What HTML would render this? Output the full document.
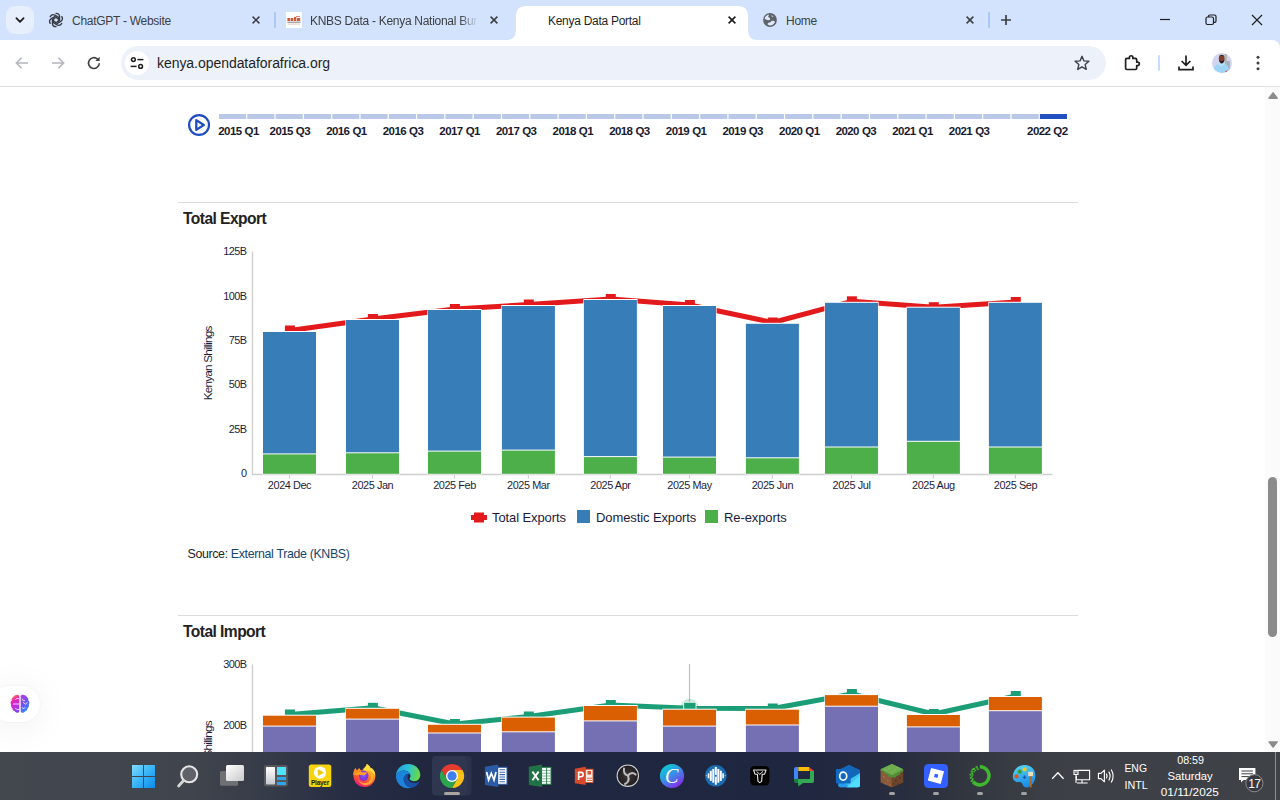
<!DOCTYPE html>
<html>
<head>
<meta charset="utf-8">
<title>Kenya Data Portal</title>
<style>
*{box-sizing:border-box;margin:0;padding:0}
html,body{width:1280px;height:800px;overflow:hidden;background:#fff;font-family:"Liberation Sans",sans-serif;}
#root{position:relative;width:1280px;height:800px;overflow:hidden;background:#fff}
.abs{position:absolute}
/* tab strip */
#tabstrip{position:absolute;left:0;top:0;width:1280px;height:50px;background:#d3e3fd}
#toolbar{position:absolute;left:0;top:40px;width:1280px;height:46px;background:#fff;border-radius:0 8px 0 0}
#tbline{position:absolute;left:0;top:86px;width:1280px;height:1px;background:#dfe1e2}
.tabtxt{position:absolute;top:14px;font-size:12px;color:#3c4043;white-space:nowrap;line-height:15px;letter-spacing:-0.28px}
#omnibox{position:absolute;left:121px;top:46px;width:985px;height:34px;border-radius:17px;background:#edf2fa}
#url{position:absolute;left:157px;top:54px;font-size:14px;color:#1f1f1f;line-height:18px;white-space:nowrap;letter-spacing:-0.05px}
/* page */
#page{position:absolute;left:0;top:87px;width:1265px;height:665px;background:#fff;overflow:hidden}
#scroll{position:absolute;left:1265px;top:87px;width:15px;height:665px;background:#fbfbfb}
.tl{position:absolute;top:39.5px;font-weight:bold;font-size:11.5px;letter-spacing:-0.58px;word-spacing:0.4px;color:#1b1b2f;white-space:nowrap;line-height:12px;transform:translateX(-50%)}
.h{position:absolute;font-weight:bold;font-size:15.6px;letter-spacing:-0.56px;color:#222;white-space:nowrap;line-height:18px}
.hr{position:absolute;left:178px;width:900px;height:1px;background:#dcdcdc}
svg text{font-family:"Liberation Sans",sans-serif}
/* taskbar */
#taskbar{position:absolute;left:0;top:752px;width:1280px;height:48px;background:linear-gradient(90deg,#43474e 0%,#40444c 15%,#363b49 21%,#272d43 27%,#20273f 33%,#1f2640 62%,#262b3f 69%,#33373f 76%,#3c4046 82%,#3f4348 100%)}
</style>
</head>
<body>
<div id="root">

<!-- ================= TAB STRIP ================= -->
<div id="tabstrip">
  <div class="abs" style="left:6px;top:6px;width:28px;height:28px;border-radius:9px;background:#e7effd"></div>
  <svg class="abs" style="left:14px;top:14px" width="12" height="12" viewBox="0 0 12 12"><path d="M2.4 4.2 L6 7.8 L9.6 4.2" fill="none" stroke="#1f1f1f" stroke-width="1.8" stroke-linecap="round" stroke-linejoin="round"/></svg>

  <!-- tab1 chatgpt -->
  <svg class="abs" style="left:48px;top:12px" width="16" height="16" viewBox="0 0 16 16"><g fill="none" stroke="#363a44" stroke-width="1.3" stroke-linejoin="round" stroke-linecap="round">
<path d="M8 1.3 C10 1.3 11.5 2.7 11.6 4.6 L11.6 8.6 L8.6 10.3"/><path d="M8 1.3 C10 1.3 11.5 2.7 11.6 4.6 L11.6 8.6 L8.6 10.3" transform="rotate(60 8 8)"/><path d="M8 1.3 C10 1.3 11.5 2.7 11.6 4.6 L11.6 8.6 L8.6 10.3" transform="rotate(120 8 8)"/><path d="M8 1.3 C10 1.3 11.5 2.7 11.6 4.6 L11.6 8.6 L8.6 10.3" transform="rotate(180 8 8)"/><path d="M8 1.3 C10 1.3 11.5 2.7 11.6 4.6 L11.6 8.6 L8.6 10.3" transform="rotate(240 8 8)"/><path d="M8 1.3 C10 1.3 11.5 2.7 11.6 4.6 L11.6 8.6 L8.6 10.3" transform="rotate(300 8 8)"/></g></svg>
  <div class="tabtxt" style="left:72px">ChatGPT - Website</div>
  <svg class="abs x" style="left:251px;top:15px" width="10" height="10" viewBox="0 0 10 10"><path d="M1.6 1.6 L8.4 8.4 M8.4 1.6 L1.6 8.4" stroke="#3c4043" stroke-width="1.55" fill="none"/></svg>
  <div class="abs" style="left:274px;top:12px;width:2px;height:16px;background:#a8c7fa;border-radius:1px"></div>

  <!-- tab2 knbs -->
  <div class="abs" style="left:286px;top:12px;width:16px;height:16px;background:#fff"></div>
  <svg class="abs" style="left:286px;top:12px" width="16" height="16" viewBox="0 0 16 16"><g fill="#cf5a3c"><rect x="1.4" y="6" width="2.6" height="3"/><rect x="4.6" y="6" width="2.8" height="3"/><rect x="8" y="5" width="2.4" height="4"/><rect x="11" y="6" width="3.2" height="3"/><rect x="10" y="4" width="4" height="1" opacity="0.7"/></g><rect x="1.4" y="9.6" width="13" height="1.3" fill="#9a9ea0"/><rect x="1.6" y="11.6" width="12.6" height="1" fill="#efc9bd"/></svg>
  <div class="tabtxt" style="left:310px;width:168px;overflow:hidden;-webkit-mask-image:linear-gradient(90deg,#000 150px,transparent 168px)">KNBS Data - Kenya National Bureau</div>
  <svg class="abs x" style="left:489px;top:15px" width="10" height="10" viewBox="0 0 10 10"><path d="M1.6 1.6 L8.4 8.4 M8.4 1.6 L1.6 8.4" stroke="#3c4043" stroke-width="1.55" fill="none"/></svg>

  <!-- active tab -->
  <svg class="abs" style="left:506px;top:6px" width="252" height="34" viewBox="0 0 252 34"><path d="M0 34 Q10 34 10 24 L10 10 Q10 0 20 0 L232 0 Q242 0 242 10 L242 24 Q242 34 252 34 Z" fill="#fff"/></svg>
  <div class="tabtxt" style="left:548px;color:#1f1f1f">Kenya Data Portal</div>
  <svg class="abs x" style="left:727px;top:15px" width="10" height="10" viewBox="0 0 10 10"><path d="M1.6 1.6 L8.4 8.4 M8.4 1.6 L1.6 8.4" stroke="#1f1f1f" stroke-width="1.65" fill="none"/></svg>

  <!-- tab4 home -->
  <svg class="abs" style="left:762px;top:12px" width="16" height="16" viewBox="0 0 16 16"><circle cx="8" cy="8" r="6.9" fill="#5f6368"/><path d="M2.6 7.4 C2.8 5 4.4 3.2 6.6 2.6 C7 3.4 6.6 4.2 6 4.6 C6.4 5.6 7.6 5.4 8 6.2 C8.6 7.4 7.4 8.4 6.2 8.2 C4.8 8 3.8 7 2.6 7.4 Z" fill="#dfe9fb"/><path d="M5.6 12.6 C5.4 11.4 6.2 10.4 7.4 10.4 C8.8 10.4 9 9 10.2 8.8 C11.4 8.6 12.6 9.2 13 10 C12.2 12 10.4 13.4 8 13.4 C7 13.4 6.2 13.1 5.6 12.6 Z" fill="#dfe9fb"/><path d="M9.4 3 C10.4 3.4 11.2 4 11.8 4.8 C11 5.4 10 5.2 9.6 4.4 C9.4 4 9.3 3.5 9.4 3Z" fill="#dfe9fb" opacity="0.6"/></svg>
  <div class="tabtxt" style="left:786px">Home</div>
  <svg class="abs x" style="left:965px;top:15px" width="10" height="10" viewBox="0 0 10 10"><path d="M1.6 1.6 L8.4 8.4 M8.4 1.6 L1.6 8.4" stroke="#3c4043" stroke-width="1.55" fill="none"/></svg>
  <div class="abs" style="left:988px;top:12px;width:2px;height:16px;background:#a8c7fa;border-radius:1px"></div>
  <svg class="abs" style="left:1000px;top:14px" width="12" height="12" viewBox="0 0 12 12"><path d="M6 1 V11 M1 6 H11" stroke="#3c4043" stroke-width="1.7" fill="none"/></svg>

  <!-- window controls -->
  <svg class="abs" style="left:1159px;top:13px" width="12" height="12" viewBox="0 0 12 12"><path d="M1 6.5 H11" stroke="#1f1f1f" stroke-width="1.2"/></svg>
  <svg class="abs" style="left:1205px;top:14px" width="12" height="12" viewBox="0 0 12 12"><rect x="1" y="3" width="7.5" height="7.5" rx="1.5" fill="none" stroke="#1f1f1f" stroke-width="1.2"/><path d="M3.5 3 V2.2 Q3.5 1 4.7 1 H9.5 Q11 1 11 2.5 V7 Q11 8.3 9.8 8.3 H8.6" fill="none" stroke="#1f1f1f" stroke-width="1.2"/></svg>
  <svg class="abs" style="left:1251px;top:14px" width="12" height="12" viewBox="0 0 12 12"><path d="M1 1 L11 11 M11 1 L1 11" stroke="#1f1f1f" stroke-width="1.2"/></svg>
</div>

<!-- ================= TOOLBAR ================= -->
<div id="toolbar"></div>
<div id="tbline"></div>
<svg class="abs" style="left:14px;top:55px" width="16" height="16" viewBox="0 0 16 16"><path d="M14 8 H2.6 M7.6 2.8 L2.4 8 L7.6 13.2" fill="none" stroke="#b4b7bb" stroke-width="1.6"/></svg>
<svg class="abs" style="left:50px;top:55px" width="16" height="16" viewBox="0 0 16 16"><path d="M2 8 H13.4 M8.4 2.8 L13.6 8 L8.4 13.2" fill="none" stroke="#b4b7bb" stroke-width="1.6"/></svg>
<svg class="abs" style="left:86px;top:55px" width="16" height="16" viewBox="0 0 16 16"><path d="M13.3 8.2 A5.4 5.4 0 1 1 11.6 4.1" fill="none" stroke="#3c4043" stroke-width="1.6"/><path d="M13.6 1.8 V6 H9.4 Z" fill="#3c4043"/></svg>
<div id="omnibox"></div>
<div class="abs" style="left:125px;top:51px;width:24px;height:24px;border-radius:12px;background:#fff"></div>
<svg class="abs" style="left:129px;top:55px" width="16" height="16" viewBox="0 0 16 16"><g fill="none" stroke="#1f1f1f" stroke-width="1.5"><circle cx="4.4" cy="4.6" r="1.9"/><path d="M8.4 4.6 H14.4"/><circle cx="11.6" cy="11.4" r="1.9"/><path d="M1.6 11.4 H7.6"/></g></svg>
<div id="url">kenya.opendataforafrica.org</div>
<svg class="abs" style="left:1073px;top:54px" width="18" height="18" viewBox="0 0 18 18"><path d="M9 2.3 L10.95 6.9 L15.9 7.3 L12.15 10.55 L13.3 15.4 L9 12.8 L4.7 15.4 L5.85 10.55 L2.1 7.3 L7.05 6.9 Z" fill="none" stroke="#3c4043" stroke-width="1.4" stroke-linejoin="round"/></svg>
<svg class="abs" style="left:1122px;top:53px" width="20" height="20" viewBox="0 0 20 20"><path d="M4.9 5.4 H7.4 V4.5 A1.75 1.75 0 0 1 10.9 4.5 V5.4 H13.4 Q14.7 5.4 14.7 6.7 V9.1 H15.6 A1.75 1.75 0 0 1 15.6 12.6 H14.7 V15.2 Q14.7 16.5 13.4 16.5 H4.9 Q3.6 16.5 3.6 15.2 V6.7 Q3.6 5.4 4.9 5.4 Z" fill="none" stroke="#1f1f1f" stroke-width="1.7" stroke-linejoin="round"/></svg>
<div class="abs" style="left:1158px;top:55px;width:2px;height:16px;background:#c7dbfb;border-radius:1px"></div>
<svg class="abs" style="left:1176px;top:53px" width="20" height="20" viewBox="0 0 20 20"><path d="M10 2.5 V12 M5.6 8 L10 12.4 L14.4 8" fill="none" stroke="#1f1f1f" stroke-width="1.7"/><path d="M3 13.5 V16.6 H17 V13.5" fill="none" stroke="#1f1f1f" stroke-width="1.7"/></svg>
<svg class="abs" style="left:1212px;top:52.8px" width="20" height="20" viewBox="0 0 20 20"><defs><clipPath id="avc"><circle cx="10" cy="10" r="10"/></clipPath></defs><g clip-path="url(#avc)"><rect width="20" height="20" fill="#d3d5ee"/><rect x="12.6" y="1" width="2.2" height="18" fill="#a9b6b4"/><rect x="14.8" y="8" width="3" height="12" fill="#9db2b8"/><path d="M1 20 C1 13 5 10.6 9.6 10.6 C14.2 10.6 17.4 13 17.6 20 Z" fill="#9ed4f8"/><path d="M6 11.4 L9.6 13.4 L13 11.2 L12 9.6 H7 Z" fill="#b9e0fa"/><ellipse cx="9.7" cy="5.4" rx="2.9" ry="3.7" fill="#7d3f29"/><path d="M7 6.6 C7.4 9.6 8.6 10.6 9.8 10.6 C11 10.6 12.2 9.4 12.5 6.6 C11.6 8 10.6 8.2 9.8 8.2 C9 8.2 7.8 8 7 6.6 Z" fill="#2b1f2a"/><path d="M7 3.6 C7.6 1.4 11.8 1.4 12.4 3.6 C11.4 2.6 8 2.6 7 3.6Z" fill="#3a2320"/><path d="M13 18.4 l2.4 -1.2 l0.6 1.4 l-2 1.4z" fill="#e0523a"/></g></svg>
<svg class="abs" style="left:1254px;top:54px" width="8" height="18" viewBox="0 0 8 18"><circle cx="4" cy="3.2" r="1.5" fill="#3c4043"/><circle cx="4" cy="9" r="1.5" fill="#3c4043"/><circle cx="4" cy="14.8" r="1.5" fill="#3c4043"/></svg>

<!-- ================= PAGE ================= -->
<div id="page">
  <svg class="abs" style="left:187px;top:26px" width="24" height="24" viewBox="0 0 24 24"><circle cx="12.05" cy="12" r="9.95" fill="none" stroke="#1f4cc2" stroke-width="2.2"/><path d="M9.3 7.1 L16.8 12 L9.3 16.9 Z" fill="none" stroke="#1f4cc2" stroke-width="2.3" stroke-linejoin="round"/></svg>
<svg class="abs" style="left:219.0px;top:27px" width="849.2" height="5"><rect x="0.00" y="0" width="27.11" height="5" fill="#b9c8e6"/><rect x="28.31" y="0" width="27.11" height="5" fill="#b9c8e6"/><rect x="56.61" y="0" width="27.11" height="5" fill="#b9c8e6"/><rect x="84.92" y="0" width="27.11" height="5" fill="#b9c8e6"/><rect x="113.23" y="0" width="27.11" height="5" fill="#b9c8e6"/><rect x="141.53" y="0" width="27.11" height="5" fill="#b9c8e6"/><rect x="169.84" y="0" width="27.11" height="5" fill="#b9c8e6"/><rect x="198.15" y="0" width="27.11" height="5" fill="#b9c8e6"/><rect x="226.45" y="0" width="27.11" height="5" fill="#b9c8e6"/><rect x="254.76" y="0" width="27.11" height="5" fill="#b9c8e6"/><rect x="283.07" y="0" width="27.11" height="5" fill="#b9c8e6"/><rect x="311.37" y="0" width="27.11" height="5" fill="#b9c8e6"/><rect x="339.68" y="0" width="27.11" height="5" fill="#b9c8e6"/><rect x="367.99" y="0" width="27.11" height="5" fill="#b9c8e6"/><rect x="396.29" y="0" width="27.11" height="5" fill="#b9c8e6"/><rect x="424.60" y="0" width="27.11" height="5" fill="#b9c8e6"/><rect x="452.91" y="0" width="27.11" height="5" fill="#b9c8e6"/><rect x="481.21" y="0" width="27.11" height="5" fill="#b9c8e6"/><rect x="509.52" y="0" width="27.11" height="5" fill="#b9c8e6"/><rect x="537.83" y="0" width="27.11" height="5" fill="#b9c8e6"/><rect x="566.13" y="0" width="27.11" height="5" fill="#b9c8e6"/><rect x="594.44" y="0" width="27.11" height="5" fill="#b9c8e6"/><rect x="622.75" y="0" width="27.11" height="5" fill="#b9c8e6"/><rect x="651.05" y="0" width="27.11" height="5" fill="#b9c8e6"/><rect x="679.36" y="0" width="27.11" height="5" fill="#b9c8e6"/><rect x="707.67" y="0" width="27.11" height="5" fill="#b9c8e6"/><rect x="735.97" y="0" width="27.11" height="5" fill="#b9c8e6"/><rect x="764.28" y="0" width="27.11" height="5" fill="#b9c8e6"/><rect x="792.59" y="0" width="27.11" height="5" fill="#b9c8e6"/><rect x="820.89" y="0" width="27.11" height="5" fill="#2350c0"/></svg>
<div class="tl" style="left:238.5px;top:38px">2015 Q1</div>
<div class="tl" style="left:289.8px;top:38px">2015 Q3</div>
<div class="tl" style="left:346.4px;top:38px">2016 Q1</div>
<div class="tl" style="left:403.0px;top:38px">2016 Q3</div>
<div class="tl" style="left:459.6px;top:38px">2017 Q1</div>
<div class="tl" style="left:516.2px;top:38px">2017 Q3</div>
<div class="tl" style="left:572.8px;top:38px">2018 Q1</div>
<div class="tl" style="left:629.4px;top:38px">2018 Q3</div>
<div class="tl" style="left:686.1px;top:38px">2019 Q1</div>
<div class="tl" style="left:742.7px;top:38px">2019 Q3</div>
<div class="tl" style="left:799.3px;top:38px">2020 Q1</div>
<div class="tl" style="left:855.9px;top:38px">2020 Q3</div>
<div class="tl" style="left:912.5px;top:38px">2021 Q1</div>
<div class="tl" style="left:969.1px;top:38px">2021 Q3</div>
<div class="tl" style="left:1047.3px;top:38px">2022 Q2</div>
  <div class="hr" style="top:115px"></div>
<div class="h" style="left:183px;top:122.5px">Total Export</div>
<svg class="abs" style="left:0;top:143px" width="1265" height="330" viewBox="0 230 1265 330">
<path d="M252.5 251.5 V474.5 H1052.5" fill="none" stroke="#cfcfcf" stroke-width="1.4"/>
<path d="M289.5 474.5 V478.5" stroke="#cfcfcf" stroke-width="1.2"/>
<path d="M372.5 474.5 V478.5" stroke="#cfcfcf" stroke-width="1.2"/>
<path d="M454.5 474.5 V478.5" stroke="#cfcfcf" stroke-width="1.2"/>
<path d="M528.4 474.5 V478.5" stroke="#cfcfcf" stroke-width="1.2"/>
<path d="M610.4 474.5 V478.5" stroke="#cfcfcf" stroke-width="1.2"/>
<path d="M689.5 474.5 V478.5" stroke="#cfcfcf" stroke-width="1.2"/>
<path d="M772.4 474.5 V478.5" stroke="#cfcfcf" stroke-width="1.2"/>
<path d="M851.5 474.5 V478.5" stroke="#cfcfcf" stroke-width="1.2"/>
<path d="M933.4 474.5 V478.5" stroke="#cfcfcf" stroke-width="1.2"/>
<path d="M1015.4 474.5 V478.5" stroke="#cfcfcf" stroke-width="1.2"/>
<text x="246.4" y="255.3" text-anchor="end" font-size="10.9" letter-spacing="-0.6" fill="#1c1c3a">125B</text>
<text x="246.4" y="299.59999999999997" text-anchor="end" font-size="10.9" letter-spacing="-0.6" fill="#1c1c3a">100B</text>
<text x="246.4" y="343.9" text-anchor="end" font-size="10.9" letter-spacing="-0.6" fill="#1c1c3a">75B</text>
<text x="246.4" y="388.09999999999997" text-anchor="end" font-size="10.9" letter-spacing="-0.6" fill="#1c1c3a">50B</text>
<text x="246.4" y="432.5" text-anchor="end" font-size="10.9" letter-spacing="-0.6" fill="#1c1c3a">25B</text>
<text x="246.4" y="476.9" text-anchor="end" font-size="10.9" letter-spacing="-0.6" fill="#1c1c3a">0</text>
<text transform="translate(212.3,400.2) rotate(-90)" font-size="11.8" textLength="74.6" lengthAdjust="spacing" fill="#1c1c3a">Kenyan Shillings</text>
<polyline points="289.9,330.5 372.9,319 454.9,309 528.8,304.5 610.8,299 689.9,305 772.8,322.5 851.9,301.3 933.8,307.2 1015.8,302" fill="none" stroke="#e31a1c" stroke-width="5" stroke-linejoin="round"/>
<rect x="284.9" y="325.5" width="10" height="10" fill="#e31a1c"/>
<rect x="367.9" y="314" width="10" height="10" fill="#e31a1c"/>
<rect x="449.9" y="304" width="10" height="10" fill="#e31a1c"/>
<rect x="523.8" y="299.5" width="10" height="10" fill="#e31a1c"/>
<rect x="605.8" y="294" width="10" height="10" fill="#e31a1c"/>
<rect x="684.9" y="300" width="10" height="10" fill="#e31a1c"/>
<rect x="767.8" y="317.5" width="10" height="10" fill="#e31a1c"/>
<rect x="846.9" y="296.3" width="10" height="10" fill="#e31a1c"/>
<rect x="928.8" y="302.2" width="10" height="10" fill="#e31a1c"/>
<rect x="1010.8" y="297" width="10" height="10" fill="#e31a1c"/>
<rect x="262.4" y="331" width="54.2" height="143.39999999999998" fill="#fff"/>
<rect x="263.0" y="332" width="53.0" height="121.39999999999998" fill="#377eb8"/>
<rect x="263.0" y="454.4" width="53.0" height="19.400000000000034" fill="#4daf4a"/>
<rect x="345.4" y="319" width="54.2" height="155.39999999999998" fill="#fff"/>
<rect x="346.0" y="320" width="53.0" height="132.3" fill="#377eb8"/>
<rect x="346.0" y="453.3" width="53.0" height="20.5" fill="#4daf4a"/>
<rect x="427.4" y="309" width="54.2" height="165.39999999999998" fill="#fff"/>
<rect x="428.0" y="310" width="53.0" height="140.60000000000002" fill="#377eb8"/>
<rect x="428.0" y="451.6" width="53.0" height="22.19999999999999" fill="#4daf4a"/>
<rect x="501.29999999999995" y="305" width="54.2" height="169.39999999999998" fill="#fff"/>
<rect x="501.9" y="306" width="53.0" height="143.60000000000002" fill="#377eb8"/>
<rect x="501.9" y="450.6" width="53.0" height="23.19999999999999" fill="#4daf4a"/>
<rect x="583.3" y="299" width="54.2" height="175.39999999999998" fill="#fff"/>
<rect x="583.9" y="300" width="53.0" height="156.10000000000002" fill="#377eb8"/>
<rect x="583.9" y="457.1" width="53.0" height="16.69999999999999" fill="#4daf4a"/>
<rect x="662.4" y="305" width="54.2" height="169.39999999999998" fill="#fff"/>
<rect x="663.0" y="306" width="53.0" height="150.60000000000002" fill="#377eb8"/>
<rect x="663.0" y="457.6" width="53.0" height="16.19999999999999" fill="#4daf4a"/>
<rect x="745.3" y="322.8" width="54.2" height="151.59999999999997" fill="#fff"/>
<rect x="745.9" y="323.8" width="53.0" height="133.5" fill="#377eb8"/>
<rect x="745.9" y="458.3" width="53.0" height="15.5" fill="#4daf4a"/>
<rect x="824.4" y="301.8" width="54.2" height="172.59999999999997" fill="#fff"/>
<rect x="825.0" y="302.8" width="53.0" height="143.7" fill="#377eb8"/>
<rect x="825.0" y="447.5" width="53.0" height="26.30000000000001" fill="#4daf4a"/>
<rect x="906.3" y="306.7" width="54.2" height="167.7" fill="#fff"/>
<rect x="906.9" y="307.7" width="53.0" height="133.10000000000002" fill="#377eb8"/>
<rect x="906.9" y="441.8" width="53.0" height="32.0" fill="#4daf4a"/>
<rect x="988.3" y="301.8" width="54.2" height="172.59999999999997" fill="#fff"/>
<rect x="988.9" y="302.8" width="53.0" height="143.7" fill="#377eb8"/>
<rect x="988.9" y="447.5" width="53.0" height="26.30000000000001" fill="#4daf4a"/>
<text x="289.5" y="489.2" text-anchor="middle" font-size="10.9" letter-spacing="-0.42" fill="#1c1c3a">2024 Dec</text>
<text x="372.5" y="489.2" text-anchor="middle" font-size="10.9" letter-spacing="-0.42" fill="#1c1c3a">2025 Jan</text>
<text x="454.5" y="489.2" text-anchor="middle" font-size="10.9" letter-spacing="-0.42" fill="#1c1c3a">2025 Feb</text>
<text x="528.4" y="489.2" text-anchor="middle" font-size="10.9" letter-spacing="-0.42" fill="#1c1c3a">2025 Mar</text>
<text x="610.4" y="489.2" text-anchor="middle" font-size="10.9" letter-spacing="-0.42" fill="#1c1c3a">2025 Apr</text>
<text x="689.5" y="489.2" text-anchor="middle" font-size="10.9" letter-spacing="-0.42" fill="#1c1c3a">2025 May</text>
<text x="772.4" y="489.2" text-anchor="middle" font-size="10.9" letter-spacing="-0.42" fill="#1c1c3a">2025 Jun</text>
<text x="851.5" y="489.2" text-anchor="middle" font-size="10.9" letter-spacing="-0.42" fill="#1c1c3a">2025 Jul</text>
<text x="933.4" y="489.2" text-anchor="middle" font-size="10.9" letter-spacing="-0.42" fill="#1c1c3a">2025 Aug</text>
<text x="1015.4" y="489.2" text-anchor="middle" font-size="10.9" letter-spacing="-0.42" fill="#1c1c3a">2025 Sep</text>
<rect x="471" y="515" width="16" height="5" fill="#e31a1c"/><rect x="474" y="512.5" width="10" height="10" fill="#e31a1c"/>
<text x="492" y="521.8" font-size="13" letter-spacing="-0.1" fill="#1c1c3a">Total Exports</text>
<rect x="577" y="510" width="13" height="13" fill="#377eb8"/>
<text x="596" y="521.8" font-size="13" letter-spacing="-0.1" fill="#1c1c3a">Domestic Exports</text>
<rect x="705" y="510" width="13" height="13" fill="#4daf4a"/>
<text x="724" y="521.8" font-size="13" letter-spacing="-0.1" fill="#1c1c3a">Re-exports</text>
</svg>
<div class="abs" style="left:187.5px;top:459.8px;font-size:12.4px;letter-spacing:-0.35px;color:#222;white-space:nowrap;line-height:15px">Source: <span style="color:#15466e">External Trade (KNBS)</span></div>
  <div class="hr" style="top:528px"></div>
<div class="h" style="left:183px;top:535.5px">Total Import</div>
<svg class="abs" style="left:0;top:563px" width="1265" height="102" viewBox="0 650 1265 102">
<path d="M252.5 664.5 V760" fill="none" stroke="#cfcfcf" stroke-width="1.4"/>
<text x="246.4" y="668.1" text-anchor="end" font-size="10.9" letter-spacing="-0.6" fill="#1c1c3a">300B</text>
<text x="246.4" y="729.1999999999999" text-anchor="end" font-size="10.9" letter-spacing="-0.6" fill="#1c1c3a">200B</text>
<text transform="translate(212.3,795) rotate(-90)" font-size="11.8" textLength="74.6" lengthAdjust="spacing" fill="#1c1c3a">Kenyan Shillings</text>
<path d="M689.5 664 V703" stroke="#c2c2c2" stroke-width="1.2"/>
<polyline points="289.9,714.5 372.9,707.8 454.9,724 528.8,716.5 610.8,705 689.9,708.3 772.8,708.5 851.9,694 933.8,714 1015.8,696" fill="none" stroke="#1b9e77" stroke-width="5" stroke-linejoin="round"/>
<circle cx="689.5" cy="708" r="9.2" fill="#1b9e77" fill-opacity="0.25"/>
<rect x="284.9" y="709.5" width="10" height="10" fill="#1b9e77"/>
<rect x="367.9" y="702.8" width="10" height="10" fill="#1b9e77"/>
<rect x="449.9" y="719" width="10" height="10" fill="#1b9e77"/>
<rect x="523.8" y="711.5" width="10" height="10" fill="#1b9e77"/>
<rect x="605.8" y="700" width="10" height="10" fill="#1b9e77"/>
<rect x="683.6" y="702.3" width="12.4" height="12.4" fill="#1b9e77" stroke="#fff" stroke-opacity="0.75" stroke-width="1.1"/>
<rect x="767.8" y="703.5" width="10" height="10" fill="#1b9e77"/>
<rect x="846.9" y="689" width="10" height="10" fill="#1b9e77"/>
<rect x="928.8" y="709" width="10" height="10" fill="#1b9e77"/>
<rect x="1010.8" y="691" width="10" height="10" fill="#1b9e77"/>
<rect x="262.4" y="714.7" width="54.2" height="54.299999999999955" fill="#fff"/>
<rect x="263.0" y="715.7" width="53.0" height="9.899999999999977" fill="#d95f02"/>
<rect x="263.0" y="726.6" width="53.0" height="43.39999999999998" fill="#7570b3"/>
<rect x="345.4" y="707.8" width="54.2" height="61.200000000000045" fill="#fff"/>
<rect x="346.0" y="708.8" width="53.0" height="9.800000000000068" fill="#d95f02"/>
<rect x="346.0" y="719.6" width="53.0" height="50.39999999999998" fill="#7570b3"/>
<rect x="427.4" y="723.8" width="54.2" height="45.200000000000045" fill="#fff"/>
<rect x="428.0" y="724.8" width="53.0" height="7.7000000000000455" fill="#d95f02"/>
<rect x="428.0" y="733.5" width="53.0" height="36.5" fill="#7570b3"/>
<rect x="501.29999999999995" y="716.6" width="54.2" height="52.39999999999998" fill="#fff"/>
<rect x="501.9" y="717.6" width="53.0" height="13.699999999999932" fill="#d95f02"/>
<rect x="501.9" y="732.3" width="53.0" height="37.700000000000045" fill="#7570b3"/>
<rect x="583.3" y="705" width="54.2" height="64" fill="#fff"/>
<rect x="583.9" y="706" width="53.0" height="14.399999999999977" fill="#d95f02"/>
<rect x="583.9" y="721.4" width="53.0" height="48.60000000000002" fill="#7570b3"/>
<rect x="662.4" y="708.7" width="54.2" height="60.299999999999955" fill="#fff"/>
<rect x="663.0" y="709.7" width="53.0" height="15.899999999999977" fill="#d95f02"/>
<rect x="663.0" y="726.6" width="53.0" height="43.39999999999998" fill="#7570b3"/>
<rect x="745.3" y="708.7" width="54.2" height="60.299999999999955" fill="#fff"/>
<rect x="745.9" y="709.7" width="53.0" height="14.799999999999955" fill="#d95f02"/>
<rect x="745.9" y="725.5" width="53.0" height="44.5" fill="#7570b3"/>
<rect x="824.4" y="694.1" width="54.2" height="74.89999999999998" fill="#fff"/>
<rect x="825.0" y="695.1" width="53.0" height="10.600000000000023" fill="#d95f02"/>
<rect x="825.0" y="706.7" width="53.0" height="63.299999999999955" fill="#7570b3"/>
<rect x="906.3" y="714" width="54.2" height="55" fill="#fff"/>
<rect x="906.9" y="715" width="53.0" height="11.399999999999977" fill="#d95f02"/>
<rect x="906.9" y="727.4" width="53.0" height="42.60000000000002" fill="#7570b3"/>
<rect x="988.3" y="696" width="54.2" height="73" fill="#fff"/>
<rect x="988.9" y="697" width="53.0" height="13.200000000000045" fill="#d95f02"/>
<rect x="988.9" y="711.2" width="53.0" height="58.799999999999955" fill="#7570b3"/>
</svg>
<div class="abs" style="left:-8px;top:599px;width:47.5px;height:36px;border-radius:18px;background:#fff;box-shadow:0 4px 36px rgba(0,0,0,0.07),0 0 3px rgba(0,0,0,0.05)"></div>
<svg class="abs" style="left:9px;top:606px" width="22" height="22" viewBox="9 693 22 22"><defs><linearGradient id="bL" x1="0.3" y1="0" x2="0.6" y2="1"><stop offset="0" stop-color="#ff8f3a"/><stop offset="0.3" stop-color="#ea22b8"/><stop offset="0.65" stop-color="#c52be0"/><stop offset="1" stop-color="#7a45f2"/></linearGradient><linearGradient id="bR" x1="0.2" y1="0" x2="0.7" y2="1"><stop offset="0" stop-color="#b23ae6"/><stop offset="0.5" stop-color="#6b55f2"/><stop offset="1" stop-color="#2e9cfc"/></linearGradient></defs>
<path d="M19.3 696.6 C19.3 695.2 17.8 694.6 16.4 694.9 C14.8 694.8 13.4 695.8 13 697.2 C11.8 697.8 11.4 699 11.8 700.2 C10.4 701.2 10.2 703.4 11.2 704.6 C10.6 706 11.2 707.6 12.4 708.2 C12.4 709.8 13.4 710.8 14.6 711 C15.4 712.6 17.2 713.2 18.4 712.6 C19 712.3 19.3 711.7 19.3 711 Z" fill="url(#bL)"/>
<path d="M20.7 696.6 C20.7 695.2 22.2 694.6 23.6 694.9 C25.2 694.8 26.6 695.8 27 697.2 C28.2 697.8 28.6 699 28.2 700.2 C29.6 701.2 29.8 703.4 28.8 704.6 C29.4 706 28.8 707.6 27.6 708.2 C27.6 709.8 26.6 710.8 25.4 711 C24.6 712.6 22.8 713.2 21.6 712.6 C21 712.3 20.7 711.7 20.7 711 Z" fill="url(#bR)"/>
<g stroke="#fff" stroke-width="0.9" fill="none" stroke-linecap="round" opacity="0.9"><path d="M13.4 704 H18.6"/><path d="M15.4 699.6 C16 698.6 17.4 698.4 18.8 698.4"/><path d="M15.2 708.2 C15.8 709.4 17.4 709.6 18.8 709.6"/><path d="M22.4 699 L23.2 700.6 L24.6 700.6"/><path d="M23.4 702.6 L25.4 704.2 L27.2 702.6"/><path d="M22.4 707.6 L23.4 709 L24.6 707.6"/></g></svg>
</div>
<div id="scroll">
  <svg class="abs" style="left:2px;top:4px" width="12" height="9" viewBox="0 0 12 9"><path d="M2 7.2 L6.1 1.8 L10.2 7.2 Z" fill="#8b8b8b" stroke="#8b8b8b" stroke-width="1.4" stroke-linejoin="round"/></svg>
  <div class="abs" style="left:3px;top:390px;width:9px;height:160px;border-radius:4.5px;background:#8b8b8b"></div>
  <svg class="abs" style="left:2px;top:653px" width="12" height="9" viewBox="0 0 12 9"><path d="M2 1.9 L6.1 7.1 L10.2 1.9 Z" fill="#8b8b8b" stroke="#8b8b8b" stroke-width="1.4" stroke-linejoin="round"/></svg>
</div>

<!-- ================= TASKBAR ================= -->
<div id="taskbar">
  <svg class="abs" style="left:0;top:0" width="1280" height="48" viewBox="0 752 1280 48">
<defs>
<linearGradient id="gWin" x1="0" y1="0" x2="1" y2="1"><stop offset="0" stop-color="#7fdcff"/><stop offset="0.5" stop-color="#39b4f7"/><stop offset="1" stop-color="#0a8aea"/></linearGradient>
<linearGradient id="gTv" x1="0" y1="0" x2="1" y2="1"><stop offset="0" stop-color="#ffffff"/><stop offset="1" stop-color="#c9c9c9"/></linearGradient>
<linearGradient id="gWd" x1="0" y1="0" x2="0" y2="1"><stop offset="0" stop-color="#ffffff"/><stop offset="1" stop-color="#c4c9cf"/></linearGradient>
<linearGradient id="gFf" x1="0.7" y1="0" x2="0.3" y2="1"><stop offset="0" stop-color="#ffd43a"/><stop offset="0.35" stop-color="#ff9a1f"/><stop offset="0.7" stop-color="#ff4a3a"/><stop offset="1" stop-color="#e8128e"/></linearGradient>
<radialGradient id="gFfp" cx="0.5" cy="0.4" r="0.6"><stop offset="0" stop-color="#9a5cff"/><stop offset="1" stop-color="#6a2fd6"/></radialGradient>
<linearGradient id="gEd1" x1="0" y1="0" x2="1" y2="0.2"><stop offset="0" stop-color="#1f9be6"/><stop offset="0.55" stop-color="#2cc3d6"/><stop offset="1" stop-color="#67d84a"/></linearGradient>
<linearGradient id="gEd2" x1="0" y1="0" x2="0.4" y2="1"><stop offset="0" stop-color="#1a8ee0"/><stop offset="1" stop-color="#1566c0"/></linearGradient>
<linearGradient id="gCv" x1="0.15" y1="0.1" x2="0.75" y2="0.95"><stop offset="0" stop-color="#0acdd0"/><stop offset="0.5" stop-color="#3a8be8"/><stop offset="1" stop-color="#8a2be8"/></linearGradient>
<linearGradient id="gOl" x1="0" y1="0" x2="1" y2="1"><stop offset="0" stop-color="#1d8fe0"/><stop offset="1" stop-color="#4fd6fb"/></linearGradient>
<linearGradient id="gPt" x1="0.3" y1="0" x2="0.6" y2="1"><stop offset="0" stop-color="#55d3f6"/><stop offset="1" stop-color="#1588e6"/></linearGradient>
<radialGradient id="gObs" cx="0.5" cy="0.5" r="0.5"><stop offset="0" stop-color="#3a3638"/><stop offset="1" stop-color="#1f1d20"/></radialGradient>
</defs>

<!-- windows -->
<g fill="url(#gWin)"><path d="M132 765 h11 v11 h-11z M144 765 h11 v11 h-11z M132 777 h11 v11 h-11z M144 777 h11 v11 h-11z" /></g>

<!-- search -->
<circle cx="189.2" cy="774.3" r="8" fill="#6a6d73" fill-opacity="0.75" stroke="#e6e6e6" stroke-width="2.1"/>
<path d="M183.4 780.8 L178.6 786" stroke="#d6d6d6" stroke-width="2.8" stroke-linecap="round"/>

<!-- task view -->
<rect x="220" y="771" width="18" height="14.8" rx="1.5" fill="#6f7073"/>
<rect x="226" y="765" width="18" height="16" rx="1.5" fill="url(#gTv)"/>

<!-- widgets -->
<rect x="264" y="765" width="23.8" height="21.6" rx="2" fill="#56585c"/>
<rect x="266" y="767" width="9" height="17.6" rx="0.8" fill="url(#gWd)"/>
<rect x="277" y="767" width="9" height="8" fill="#4fe3ff"/>
<rect x="277" y="777" width="9" height="3" fill="#2ba7f0"/>
<rect x="277" y="782" width="9" height="3" fill="#2ba7f0"/>

<!-- player -->
<rect x="308.8" y="764.6" width="22.5" height="22.5" rx="2.5" fill="#f6d30d"/>
<circle cx="320" cy="772.6" r="6.1" fill="#fff"/>
<path d="M318.2 769.6 L323.4 772.6 L318.2 775.6 Z" fill="#f2c90a" stroke="#f2c90a" stroke-width="0.8" stroke-linejoin="round"/>
<text x="320" y="785.2" text-anchor="middle" font-size="6.4" font-weight="bold" letter-spacing="-0.2" fill="#1a1a1a">Player</text>

<!-- firefox -->
<g>
<path d="M353.4 775 C353.2 772 354.2 770 355.5 768 C355.8 769.2 356.4 770 357.2 770.6 C357.6 769.6 358.4 768.8 359.2 768.2 C359.6 769.4 360.6 770.4 362 770.8 C362.6 769.6 363.4 768.8 363.8 768.4 C365.2 767.4 366.4 765.8 366.8 764.1 C368.8 765.2 370.2 766.8 370.6 768.4 C371.4 768.2 372.2 768.4 372.9 769.2 C374.8 771.2 375.4 774 375.3 776.4 C375.2 782.4 370.4 787.1 364.3 787.1 C358.2 787.1 353.4 782 353.4 775 Z" fill="url(#gFf)"/>
<path d="M363.8 768.4 C365.2 767.4 366.4 765.8 366.8 764.1 C368.8 765.2 370.2 766.8 370.6 768.4 C371.4 768.2 372.2 768.4 372.9 769.2 C374.6 771 375.3 773.6 375.3 776 C374.4 773.6 372.6 772 370.6 771.4 C368.4 770.6 366 770.4 363.6 770.8 C363.4 770 363.4 769.2 363.8 768.4 Z" fill="#ffdc3e"/>
<path d="M353.4 775 C353.2 772 354.2 770 355.5 768 C355.8 769.2 356.4 770 357.2 770.6 C357.6 769.6 358.4 768.8 359.2 768.2 C359.6 769.4 360.6 770.4 362 770.8 C360 771.6 358.4 773 357.6 775 Z" fill="#ff8a24"/>
<ellipse cx="363.7" cy="775.6" rx="4.7" ry="5.2" fill="url(#gFfp)"/>
<path d="M355.8 773.2 C357.6 772 360.2 771.6 362.4 772.2 C364 772.6 365.6 772.6 366.8 771.8 C367 773.6 365.8 775 363.8 775.2 C362.2 775.4 360.8 774.8 359.4 774.8 C358 774.8 357 775.2 356.2 775.8 C356 775 355.8 774.2 355.8 773.2 Z" fill="#ff9f24"/>
<path d="M367.4 771.6 C370.2 772.6 371.6 775.6 370.8 778.6 C370 781.6 367 783.4 363.8 783 C360.8 782.6 358.6 780.6 358 778.4 C359 782.8 362.6 785.6 366.4 785.2 C371 784.6 374 780.4 373.2 776 C372.8 773.8 370.6 771.8 367.4 771.6 Z" fill="#ffb52e" fill-opacity="0.85"/>
</g>

<!-- edge -->
<g>
<path d="M395.9 776 C395.9 769.3 401.3 763.9 408 763.9 C414.7 763.9 420.3 768.6 420.3 774.8 C420.3 778.6 417.6 781.2 414.4 781.2 C411.8 781.2 410 780.2 409.4 778.8 C410.4 777.6 410.8 776 410.2 774.4 C409.4 772 406.8 770.4 403.8 770.4 C400.4 770.4 397 772.6 395.9 776 Z" fill="url(#gEd1)"/>
<path d="M395.9 776 C397 772.6 400.4 770.4 403.8 770.4 C406.8 770.4 409.4 772 410.2 774.4 C408.6 773.6 406.6 774 405.2 775.4 C403.4 777.2 403.2 780 404.6 782.8 C406 785.6 408.8 787.6 411.8 787.8 C404 790 395.9 784.6 395.9 776 Z" fill="#1c84dc"/>
<path d="M405.2 775.4 C403.4 777.2 403.2 780 404.6 782.8 C406 785.6 408.8 787.6 411.8 787.8 C415.4 787 418.4 784.4 419.6 781.2 C417 783.2 413.2 783.6 410.4 782 C407.6 780.4 406.8 777 408.6 774.6 C407.4 774.2 406.2 774.5 405.2 775.4 Z" fill="#1552a8"/>
</g>

<!-- chrome active bg -->
<rect x="436" y="756" width="35.5" height="39.6" rx="4" fill="#ffffff" fill-opacity="0.055"/>
<rect x="432" y="756" width="35" height="39.6" rx="4" fill="#2f3650"/>
<g>
<g id="chs"><path d="M441.52 769.95 A12.1 12.1 0 0 1 462.48 769.95 L452 769.95 L446.76 779.03 Z" fill="#e33b2e"/></g>
<path d="M441.52 769.95 A12.1 12.1 0 0 1 462.48 769.95 L452 769.95 L446.76 779.03 Z" fill="#fbc116" transform="rotate(120 452 776)"/>
<path d="M441.52 769.95 A12.1 12.1 0 0 1 462.48 769.95 L452 769.95 L446.76 779.03 Z" fill="#2da44e" transform="rotate(240 452 776)"/>
<circle cx="452" cy="776" r="6.05" fill="#fff"/>
<circle cx="452" cy="776" r="4.7" fill="#3f7ff0"/>
</g>
<rect x="444" y="792" width="16" height="3" rx="1.5" fill="#a9a69f"/>

<!-- word -->
<g>
<rect x="497" y="767.3" width="10" height="17" fill="#fff" stroke="#2f5dab" stroke-width="1"/>
<path d="M499.5 769.8 H505 M499.5 772.2 H505 M499.5 774.6 H505 M499.5 777 H505 M499.5 779.4 H505 M499.5 781.8 H505" stroke="#3b66b0" stroke-width="1.1"/>
<path d="M484.9 766.7 L498.2 764.6 V787 L484.9 784.9 Z" fill="#2b5aa6"/>
<path d="M486.6 772 L488.6 780 L491.3 773.2 L494 780 L496 772" fill="none" stroke="#fff" stroke-width="1.7" stroke-linejoin="miter"/>
</g>
<!-- excel -->
<g>
<rect x="541" y="767.3" width="10" height="17" fill="#fff" stroke="#1f7a45" stroke-width="1"/>
<path d="M542 770.4 H550.5 M542 773.2 H550.5 M542 776 H550.5 M542 778.8 H550.5 M542 781.6 H550.5" stroke="#4a9a68" stroke-width="0.7"/>
<path d="M546.6 767.3 V784.3" stroke="#1f7a45" stroke-width="0.9"/>
<path d="M528.8 766.7 L542 764.6 V787 L528.8 784.9 Z" fill="#1f7344"/>
<path d="M532.4 771.6 L538.6 780.2 M538.6 771.6 L532.4 780.2" fill="none" stroke="#fff" stroke-width="1.9"/>
</g>
<!-- ppt -->
<g>
<rect x="585" y="769.3" width="8" height="13.2" fill="#fbeee9" stroke="#d9542f" stroke-width="1"/>
<path d="M587 778.2 H592 M587 780.4 H592" stroke="#d9542f" stroke-width="0.9"/>
<path d="M587.5 771 h3.5 v3.5 h-3.5z" fill="#d9542f"/>
<path d="M574.8 768.7 L585.7 766.7 V785.1 L574.8 783.2 Z" fill="#d7492a"/>
<path d="M578.6 780 V772.4 H581 A2.2 2.2 0 0 1 581 776.8 H578.6" fill="none" stroke="#fff" stroke-width="1.6"/>
</g>

<!-- obs -->
<g>
<circle cx="627.8" cy="775.7" r="10.7" fill="url(#gObs)" stroke="#d2d0d0" stroke-width="1.1"/>
<g fill="none" stroke="#bdbbbc" stroke-width="2" stroke-linecap="round">
<path d="M624 768.6 C623.4 772 625 774.6 628 775.6"/>
<path d="M635.6 774.6 C633 772.4 630 772.6 628 775.6"/>
<path d="M625 784 C628 782.8 629.4 779.6 628 775.6"/>
</g>
</g>

<!-- canva -->
<circle cx="672" cy="776" r="12.1" fill="url(#gCv)"/>
<text x="671.6" y="782.6" text-anchor="middle" style="font-family:'Liberation Serif',serif;font-style:italic" font-size="20" fill="#fff">C</text>

<!-- audio -->
<circle cx="715.8" cy="775.8" r="10.8" fill="#1a6bb2"/>
<g stroke="#fff" stroke-width="2" stroke-linecap="butt">
<path d="M715.8 766.9 V784.7"/>
<path d="M713.3 768.9 V782.7"/><path d="M718.3 768.9 V782.7"/>
<path d="M710.8 770.7 V780.9"/><path d="M720.8 770.7 V780.9"/>
<path d="M708.5 773.3 V778.3" stroke-width="1.6"/><path d="M723.1 773.3 V778.3" stroke-width="1.6"/>
</g>
<path d="M706.8 775 l-1.2 0.8 l1.2 0.8z M724.8 775 l1.2 0.8 l-1.2 0.8z" fill="#cfe3f4"/>
<rect x="714.9" y="774.9" width="1.8" height="1.8" fill="#1a6bb2"/>

<!-- black T square -->
<rect x="750.2" y="766.1" width="19.2" height="19.4" rx="4.2" fill="#030303"/>
<path d="M753.6 770 H766 L764.6 774.2 H762.2 L761.6 781.4 L759.8 782.6 L758 781.4 L757.4 774.2 H755 Z" fill="none" stroke="#e9e9e9" stroke-width="1.1" stroke-linejoin="round"/>
<path d="M756.6 771.4 L759.8 774.4 L763 771.4" fill="none" stroke="#e9e9e9" stroke-width="1"/>

<!-- google chat -->
<g>
<path d="M794 769 Q794 767 796 767 H798.4 V771 H798 V779 H794 Z" fill="#4285f4"/>
<rect x="798.4" y="767" width="10.6" height="4" fill="#fbbc04"/>
<path d="M809 767 L814 771 H809 Z" fill="#ea4335"/>
<path d="M810 771 H814 V781 Q814 783 812 783 H803 L798.2 786.6 V783 H798 V779 H810 Z" fill="#34a853"/>
<path d="M794 779 H798 V783 H796 Q794 783 794 781 Z" fill="#188038"/>
</g>

<!-- outlook -->
<g>
<path d="M838.4 770.2 L849 765 L860 770.2 V785.2 Q860 787.2 858 787.2 H840.4 Q838.4 787.2 838.4 785.2 Z" fill="#1a7fd4"/>
<path d="M842 768.4 L849 765 L860 770.2 V776 L846 779 Z" fill="#1466b8"/>
<path d="M860 773 L844 783 L847 787.2 H858 Q860 787.2 860 785.2 Z" fill="#3ec6f4"/>
<path d="M838.4 780 L852 787.2 H840.4 Q838.4 787.2 838.4 785.2 Z" fill="#2a9be6"/>
<path d="M860 775.4 L846.6 787.2 H858 Q860 787.2 860 785.2 Z" fill="#52dbfc"/>
<rect x="835.9" y="769" width="14.8" height="14.4" rx="1.2" fill="#1169c2"/>
<ellipse cx="843.2" cy="776.2" rx="3.5" ry="4" fill="none" stroke="#fff" stroke-width="1.7"/>
</g>

<!-- minecraft -->
<g>
<path d="M880.6 769.3 L891.9 775.3 V787.6 L880.6 782.6 Z" fill="#8b5a3a"/>
<path d="M903.2 769.3 L891.9 775.3 V787.6 L903.2 782.6 Z" fill="#6d452c"/>
<path d="M880.6 769.3 L891.9 764 L903.2 769.3 L891.9 775.3 Z" fill="#6dab4d"/>
<path d="M880.6 769.3 L891.9 775.3 L903.2 769.3 V771.6 L900 773 V774.4 L896 776.2 V777.6 L891.9 777.6 L888 776.6 V774.8 L884 773.2 V771.8 L880.6 771.2 Z" fill="#4f8f35"/>
<path d="M880.6 769.3 L891.9 764 L903.2 769.3 L891.9 775.3 Z" fill="#6dab4d"/>
<g fill="#a06c48"><rect x="883" y="776" width="1.6" height="1.6"/><rect x="887" y="780" width="1.6" height="1.6"/><rect x="885" y="783" width="1.4" height="1.4"/><rect x="889.4" y="784" width="1.4" height="1.4"/></g>
<g fill="#57351f"><rect x="895" y="780" width="1.6" height="1.6"/><rect x="899" y="777" width="1.6" height="1.6"/><rect x="897" y="783.4" width="1.4" height="1.4"/><rect x="893.4" y="783" width="1.4" height="1.4"/></g>
<g fill="#7fbe5c"><rect x="888" y="767.6" width="1.8" height="1.2"/><rect x="894" y="769.6" width="1.8" height="1.2"/><rect x="891" y="771.4" width="1.8" height="1.2"/><rect x="896.6" y="767.2" width="1.8" height="1.2"/><rect x="885" y="769.2" width="1.8" height="1.2"/></g>
</g>
<rect x="889" y="792" width="6" height="3" rx="1.5" fill="#a3a3a3"/>

<!-- roblox -->
<rect x="924" y="764" width="24.1" height="24.1" rx="4.2" fill="#335fff"/>
<path d="M931.1 768 L944 771.3 L940.7 783.9 L927.8 780.6 Z" fill="#fff"/>
<path d="M934.9 773.7 L938.3 774.6 L937.4 778 L934 777.1 Z" fill="#335fff"/>
<rect x="933" y="792" width="6" height="3" rx="1.5" fill="#a3a3a3"/>

<!-- green ring -->
<g>
<path d="M979.8 766.7 A9.1 9.1 0 1 1 973.2 782 " fill="none" stroke="#3fb72f" stroke-width="3.5"/>
<g fill="#3fb72f">
<rect x="975.6" y="766.2" width="2.2" height="2.2"/><rect x="973" y="768" width="2" height="2"/><rect x="977.2" y="768.4" width="1.6" height="1.6"/>
<rect x="970.8" y="770.4" width="2" height="2"/><rect x="973.4" y="771" width="1.4" height="1.4"/><rect x="969.6" y="773.6" width="2" height="2"/><rect x="972" y="774.4" width="1.4" height="1.4"/>
<rect x="969.8" y="776.8" width="2" height="2"/><rect x="972.2" y="778" width="1.4" height="1.4"/><rect x="970.8" y="780" width="2" height="2"/><rect x="971.6" y="768.6" width="1.6" height="1.6"/><rect x="974.6" y="769.6" width="1.6" height="1.6"/><rect x="971.4" y="772.4" width="1.8" height="1.8"/><rect x="971.2" y="775.6" width="1.6" height="1.6"/><rect x="971.8" y="778.6" width="1.6" height="1.6"/><rect x="973.4" y="780.6" width="1.6" height="1.6"/><rect x="974.2" y="783.2" width="1.8" height="1.8"/><rect x="972.6" y="782.2" width="1.6" height="1.6"/>
</g>
</g>
<rect x="977" y="792" width="6" height="3" rx="1.5" fill="#a3a3a3"/>

<!-- paint -->
<g>
<path d="M1024.6 765 C1031 765 1035.4 769.6 1035.4 775.4 C1035.4 781 1032.4 785.6 1028.4 787.2 C1025.6 788.2 1023 786.8 1022.6 784.6 C1022.2 782.6 1021 781.6 1019 782 C1015 782.8 1012.8 780 1012.8 776.6 C1012.8 770 1018 765 1024.6 765 Z" fill="url(#gPt)"/>
<circle cx="1019.7" cy="771.7" r="2.1" fill="#3a9e2a"/>
<circle cx="1024.6" cy="769.4" r="2.1" fill="#f5c518"/>
<circle cx="1016.5" cy="776.4" r="2.1" fill="#e0521e"/>
<path d="M1024.5 775.6 V779 M1022.8 777.3 H1026.2" stroke="#1c5aa6" stroke-width="1.2"/>
<rect x="1028.2" y="771.8" width="4.8" height="4.4" rx="0.6" fill="#f1dcb6"/>
<path d="M1029.4 776.2 H1031.9 L1031.5 787.2 Q1030.7 788.2 1029.9 787.2 Z" fill="#b5681c"/>
</g>
<rect x="1021" y="792" width="6" height="3" rx="1.5" fill="#a3a3a3"/>

<!-- tray -->
<path d="M1052.2 778.8 L1057.9 772.7 L1063.6 778.8" fill="none" stroke="#fff" stroke-width="1.3"/>
<g fill="none" stroke="#fff" stroke-width="1.1">
<path d="M1078 770.4 H1089.6 V779.8 H1076.4 V776"/>
<path d="M1082 779.8 V782.8 M1077 783 H1087.6"/>
<rect x="1074" y="770.4" width="4" height="4"/>
<path d="M1076 774.4 V783"/>
<path d="M1075 772 h2" stroke-width="0.9"/>
</g>
<g fill="none" stroke="#fff" stroke-width="1.1">
<path d="M1098.4 773.4 H1101 L1104.4 770.2 V781.8 L1101 778.6 H1098.4 Z" stroke-linejoin="round"/>
<path d="M1106.4 773.6 Q1107.8 776 1106.4 778.4"/>
<path d="M1108.8 771.6 Q1111.4 776 1108.8 780.4"/>
<path d="M1111.2 769.4 Q1115 776 1111.2 782.6"/>
</g>
<g fill="#fff" font-size="11.6">
<text x="1124.4" y="771.7" textLength="22.6" lengthAdjust="spacingAndGlyphs">ENG</text>
<text x="1124.4" y="788.5" textLength="23.4" lengthAdjust="spacingAndGlyphs">INTL</text>
<text x="1177.2" y="764" textLength="26.8" lengthAdjust="spacingAndGlyphs">08:59</text>
<text x="1167.4" y="780.4" textLength="45.3" lengthAdjust="spacingAndGlyphs">Saturday</text>
<text x="1160.8" y="795.8" textLength="58" lengthAdjust="spacingAndGlyphs">01/11/2025</text>
</g>
<!-- notification -->
<path d="M1239 768 H1255.4 V780 H1243.6 L1241 782.6 V780 H1239 Z" fill="#fff"/>
<path d="M1241.4 771 H1253 M1241.4 773.8 H1253 M1241.4 776.6 H1253" stroke="#3b3f46" stroke-width="1"/>
<circle cx="1254.4" cy="783.2" r="8.6" fill="#37393e" stroke="#8a8c90" stroke-width="1"/>
<text x="1254.2" y="787.6" text-anchor="middle" font-size="12" letter-spacing="-0.8" fill="#fff">17</text>
<path d="M1275.5 752 V800" stroke="#8a8d92" stroke-width="1"/>
</svg>

</div>

</div>
</body>
</html>
